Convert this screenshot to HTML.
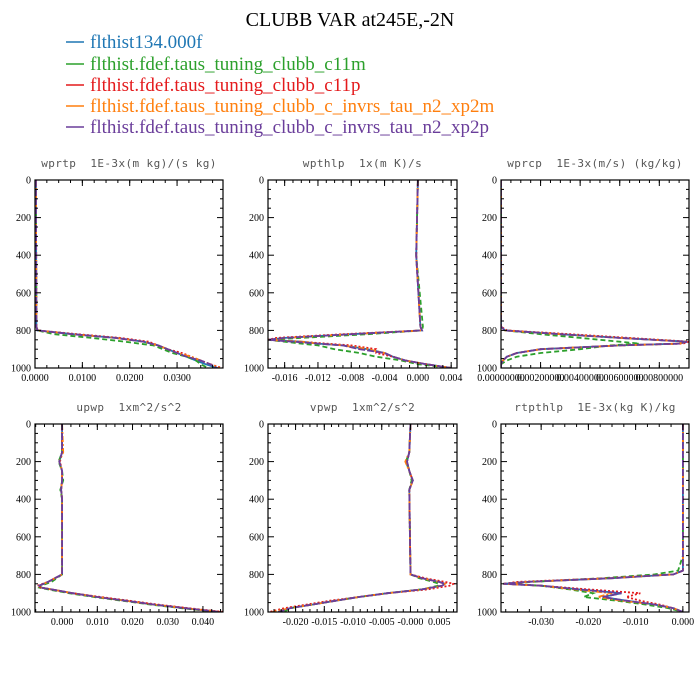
<!DOCTYPE html>
<html><head><meta charset="utf-8"><style>
body{margin:0;background:#fff}
svg{display:block}
.pt{font-family:"DejaVu Sans Mono","Liberation Mono",monospace;font-size:11px;fill:#555;white-space:pre}
.tk{font-family:"Liberation Serif",serif;font-size:10px;fill:#000}
</style></head><body>
<svg id="chart" width="700" height="700" viewBox="0 0 700 700">
<text x="350" y="26" text-anchor="middle" font-family="Liberation Serif,serif" font-size="20">CLUBB VAR at245E,-2N</text>
<g id="legend"></g>
<g id="panels"></g>
</svg>
<script>
const seriesNames=["flthist134.000f","flthist.fdef.taus_tuning_clubb_c11m","flthist.fdef.taus_tuning_clubb_c11p","flthist.fdef.taus_tuning_clubb_c_invrs_tau_n2_xp2m","flthist.fdef.taus_tuning_clubb_c_invrs_tau_n2_xp2p"];
const seriesColors=["#1f77b4","#2ca02c","#e41a1c","#ff7f0e","#6a3d9a"];
const seriesDash=["","5,3","2,2","6,2,2,2","7,2"];

// panel 1 wprtp
const p1Levels=[0,780,800,820,840,860,870,880,900,920,940,960,980,1000];
const p1Blue=[0.0002,0.0003,0.0005,0.008,0.017,0.023,0.0245,0.026,0.028,0.030,0.032,0.034,0.036,0.0385];
const p1Green=[0.0002,0.0003,0.0005,0.004,0.012,0.019,0.022,0.025,0.027,0.029,0.032,0.034,0.035,0.0365];
const p1Red=[0.0002,0.0003,0.0006,0.009,0.018,0.024,0.025,0.026,0.028,0.031,0.033,0.035,0.037,0.0395];
const p1Orange=[0.0002,0.0003,0.0005,0.008,0.017,0.023,0.0245,0.026,0.028,0.030,0.033,0.035,0.037,0.039];
const p1Purple=[0.0002,0.0003,0.0005,0.008,0.017,0.023,0.0245,0.026,0.028,0.030,0.032,0.035,0.037,0.0385];
// panel 2 wpthlp
const p2Levels=[0,400,780,800,820,840,850,860,870,880,900,920,940,960,980,1000];
const p2Blue=[0.0000,-0.0002,0.0003,0.0005,-0.008,-0.016,-0.018,-0.014,-0.012,-0.009,-0.006,-0.004,-0.003,-0.0015,0.001,0.004];
const p2Green=[0.0000,-0.0002,0.0006,0.0005,-0.006,-0.014,-0.018,-0.016,-0.014,-0.012,-0.010,-0.007,-0.005,-0.002,0.000,0.004];
const p2Red=[0.0000,-0.0002,0.0003,0.0005,-0.009,-0.017,-0.018,-0.014,-0.011,-0.008,-0.005,-0.005,-0.003,-0.0015,0.001,0.004];
const p2Orange=[0.0000,-0.0002,0.0003,0.0005,-0.008,-0.016,-0.018,-0.014,-0.012,-0.009,-0.006,-0.004,-0.003,-0.0015,0.001,0.004];
const p2Purple=[0.0000,-0.0002,0.0003,0.0005,-0.008,-0.016,-0.018,-0.015,-0.012,-0.009,-0.007,-0.004,-0.003,-0.0015,0.001,0.004];
// panel 3 wprcp
const p3Levels=[0,780,800,820,840,860,870,880,900,920,940,960,980,1000];
const p3Blue=[0,0,0.0002,0.003,0.006,0.0094,0.009,0.006,0.002,0.0008,0.0003,0.0001,0,0];
const p3Green=[0,0,0.0002,0.002,0.004,0.006,0.007,0.0055,0.004,0.002,0.0008,0.0003,0,0];
const p3Red=[0,0,0.0003,0.0035,0.0065,0.0095,0.0092,0.006,0.002,0.0008,0.0003,0.0001,0,0];
const p3Orange=[0,0,0.0002,0.003,0.006,0.0094,0.009,0.006,0.002,0.0008,0.0003,0.0001,0,0];
const p3Purple=[0,0,0.0002,0.003,0.006,0.0094,0.009,0.006,0.002,0.0008,0.0003,0.0001,0,0];
// panel 4 upwp
const p4Levels=[0,150,200,250,300,350,400,800,840,860,870,880,900,920,940,960,980,1000];
const p4Blue=[0,0,-0.0008,0,0,-0.0003,0,0,-0.004,-0.0065,-0.006,-0.003,0.003,0.010,0.018,0.026,0.035,0.045];
const p4Green=[0,0,-0.001,0,0.0003,-0.0005,0,0,-0.003,-0.006,-0.0065,-0.004,0.002,0.009,0.017,0.025,0.034,0.044];
const p4Red=[0,0,-0.0006,0,0,-0.0003,0,0,-0.004,-0.007,-0.006,-0.003,0.003,0.011,0.019,0.027,0.036,0.046];
const p4Orange=[0,0.0003,-0.0008,0,0,-0.0003,0,0,-0.004,-0.0065,-0.006,-0.003,0.003,0.010,0.018,0.026,0.035,0.045];
const p4Purple=[0,0,-0.0008,0,0,-0.0003,0,0,-0.004,-0.0065,-0.006,-0.003,0.003,0.010,0.018,0.026,0.035,0.045];
// panel 5 vpwp
const p5Levels=[0,150,200,250,300,350,800,820,840,850,860,880,900,920,940,960,980,1000];
const p5Blue=[0,-0.0002,-0.0006,-0.0002,0.0004,-0.0002,0,0.002,0.005,0.006,0.0055,0.002,-0.004,-0.009,-0.013,-0.017,-0.021,-0.023];
const p5Green=[0,-0.0002,-0.0008,-0.0002,0.0002,-0.0002,0,0.0015,0.004,0.005,0.0048,0.002,-0.004,-0.009,-0.013,-0.017,-0.021,-0.022];
const p5Red=[0,-0.0002,-0.0006,-0.0002,0.0004,-0.0002,0,0.0025,0.006,0.0075,0.0068,0.003,-0.004,-0.009,-0.014,-0.018,-0.022,-0.0245];
const p5Orange=[0,-0.0002,-0.0009,-0.0002,0.0004,-0.0002,0,0.002,0.005,0.006,0.0055,0.002,-0.004,-0.009,-0.013,-0.017,-0.021,-0.024];
const p5Purple=[0,-0.0002,-0.0006,-0.0002,0.0004,-0.0002,0,0.002,0.005,0.006,0.0055,0.002,-0.004,-0.009,-0.013,-0.017,-0.021,-0.023];
// panel 6 rtpthlp
const p6Levels=[0,700,780,800,820,840,850,860,880,900,920,940,960,980,1000];
const p6Blue=[0,0,0,-0.002,-0.015,-0.033,-0.038,-0.030,-0.022,-0.013,-0.017,-0.012,-0.006,-0.002,0];
const p6Green=[0,0,-0.001,-0.006,-0.017,-0.032,-0.037,-0.030,-0.024,-0.019,-0.021,-0.014,-0.008,-0.003,0];
const p6Red=[0,0,0,-0.002,-0.016,-0.035,-0.038,-0.030,-0.020,-0.009,-0.012,-0.009,-0.005,-0.002,0];
const p6Orange=[0,0,0,-0.002,-0.015,-0.033,-0.038,-0.030,-0.023,-0.015,-0.018,-0.013,-0.006,-0.002,0];
const p6Purple=[0,0,0,-0.002,-0.015,-0.033,-0.038,-0.030,-0.022,-0.013,-0.017,-0.012,-0.006,-0.002,0];

const xTicks1=[0,0.01,0.02,0.03], xLabels1=["0.0000","0.0100","0.0200","0.0300"];
const xTicks2=[-0.016,-0.012,-0.008,-0.004,0,0.004], xLabels2=["-0.016","-0.012","-0.008","-0.004","0.000","0.004"];
const xTicks3=[0,0.002,0.004,0.006,0.008], xLabels3=["0.00000000","0.00200000","0.00400000","0.00600000","0.00800000"];
const xTicks4=[0,0.01,0.02,0.03,0.04], xLabels4=["0.000","0.010","0.020","0.030","0.040"];
const xTicks5=[-0.02,-0.015,-0.01,-0.005,0,0.005], xLabels5=["-0.020","-0.015","-0.010","-0.005","-0.000","0.005"];
const xTicks6=[-0.03,-0.02,-0.01,0], xLabels6=["-0.030","-0.020","-0.010","0.000"];
const yTicks=[0,200,400,600,800,1000];

const NS="http://www.w3.org/2000/svg";
function mk(tag,attrs,parent){const e=document.createElementNS(NS,tag);for(const k in attrs)e.setAttribute(k,attrs[k]);parent.appendChild(e);return e;}

const legend=document.getElementById('legend');
const legY=[42,64,85,106,127];
seriesNames.forEach((n,i)=>{
  const g=mk('g',{},legend);
  
  
  mk('line',{x1:66,x2:84,y1:legY[i],y2:legY[i],stroke:seriesColors[i],'stroke-width':1.5},g);
  const t=mk('text',{x:90,y:legY[i]+6,fill:seriesColors[i],'font-family':'Liberation Serif,serif','font-size':19},g);
  t.textContent=n;
});

const panels=[
 {name:'wprtp',title:'wprtp  1E-3x(m kg)/(s kg)',x0:35,x1:223,y0:180,y1:368,xmin:0,xmax:0.0397,lv:p1Levels,s:[p1Blue,p1Green,p1Red,p1Orange,p1Purple],xt:xTicks1,xl:xLabels1,minor:0.0025,fs:10},
 {name:'wpthlp',title:'wpthlp  1x(m K)/s',x0:268,x1:457,y0:180,y1:368,xmin:-0.018,xmax:0.0047,lv:p2Levels,s:[p2Blue,p2Green,p2Red,p2Orange,p2Purple],xt:xTicks2,xl:xLabels2,minor:0.001,fs:10},
 {name:'wprcp',title:'wprcp  1E-3x(m/s) (kg/kg)',x0:501,x1:689,y0:180,y1:368,xmin:0,xmax:0.0095,lv:p3Levels,s:[p3Blue,p3Green,p3Red,p3Orange,p3Purple],xt:xTicks3,xl:xLabels3,minor:0.0005,fs:8.6},
 {name:'upwp',title:'upwp  1xm^2/s^2',x0:35,x1:223,y0:424,y1:612,xmin:-0.0077,xmax:0.0457,lv:p4Levels,s:[p4Blue,p4Green,p4Red,p4Orange,p4Purple],xt:xTicks4,xl:xLabels4,minor:0.0025,fs:10},
 {name:'vpwp',title:'vpwp  1xm^2/s^2',x0:268,x1:457,y0:424,y1:612,xmin:-0.0248,xmax:0.0081,lv:p5Levels,s:[p5Blue,p5Green,p5Red,p5Orange,p5Purple],xt:xTicks5,xl:xLabels5,minor:0.00125,fs:10},
 {name:'rtpthlp',title:'rtpthlp  1E-3x(kg K)/kg',x0:501,x1:689,y0:424,y1:612,xmin:-0.0385,xmax:0.0013,lv:p6Levels,s:[p6Blue,p6Green,p6Red,p6Orange,p6Purple],xt:xTicks6,xl:xLabels6,minor:0.0025,fs:10}
];
const root=document.getElementById('panels');
panels.forEach(p=>{
  const g=mk('g',{},root);
  
  
  const X=v=>p.x0+(v-p.xmin)/(p.xmax-p.xmin)*(p.x1-p.x0);
  const Y=v=>p.y0+v/1000*(p.y1-p.y0);
  const tt=mk('text',{x:(p.x0+p.x1)/2,y:p.y0-13,'text-anchor':'middle',class:'pt','letter-spacing':'0.4'},g);
  
  
  tt.textContent=p.title;
  const cp='clip-'+p.name;
  const cpe=mk('clipPath',{id:cp},g);mk('rect',{x:p.x0,y:p.y0,width:p.x1-p.x0,height:p.y1-p.y0},cpe);
  const lg=mk('g',{'clip-path':'url(#'+cp+')'},g);
  p.s.forEach((arr,i)=>{
    const d=arr.map((v,k)=>(k?'L':'M')+X(v).toFixed(1)+','+Y(p.lv[k]).toFixed(1)).join('');
    const path=mk('path',{d:d,fill:'none',stroke:seriesColors[i],'stroke-width':1.8,'stroke-dasharray':seriesDash[i]},lg);
    
    
  });
  const ax=mk('rect',{x:p.x0,y:p.y0,width:p.x1-p.x0,height:p.y1-p.y0,fill:'none',stroke:'#000','stroke-width':1.2},g);
  
  
  for(let v=0;v<=1000;v+=50){
    const L=(v%200===0)?6:3;const y=Y(v);
    mk('line',{x1:p.x0,x2:p.x0+L,y1:y,y2:y,stroke:'#000'},g);
    mk('line',{x1:p.x1,x2:p.x1-L,y1:y,y2:y,stroke:'#000'},g);
  }
  yTicks.forEach(v=>{const t=mk('text',{x:p.x0-4,y:Y(v)+3.5,'text-anchor':'end',class:'tk'},g);
    
    
    t.textContent=v;});
  const start=Math.ceil(p.xmin/p.minor);
  for(let k=start;k*p.minor<=p.xmax;k++){const x=X(k*p.minor);
    mk('line',{x1:x,x2:x,y1:p.y0,y2:p.y0+3,stroke:'#000'},g);
    mk('line',{x1:x,x2:x,y1:p.y1,y2:p.y1-3,stroke:'#000'},g);}
  p.xt.forEach((v,i)=>{const x=X(v);
    mk('line',{x1:x,x2:x,y1:p.y0,y2:p.y0+6,stroke:'#000'},g);
    mk('line',{x1:x,x2:x,y1:p.y1,y2:p.y1-6,stroke:'#000'},g);
    const t=mk('text',{x:x,y:p.y1+13,'text-anchor':'middle',class:'tk','font-size':p.fs},g);
    
    
    t.textContent=p.xl[i];});
});
</script>
</body></html>
